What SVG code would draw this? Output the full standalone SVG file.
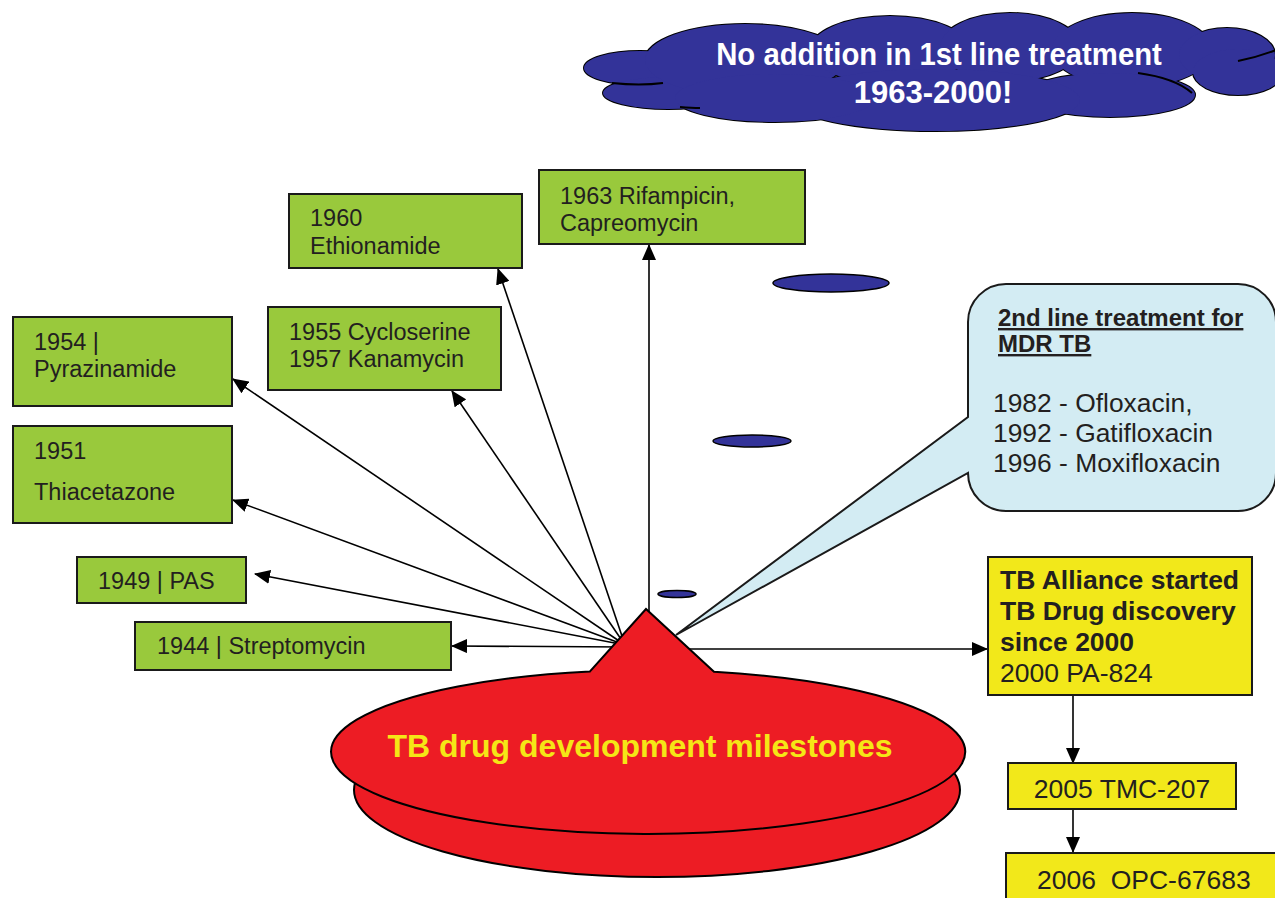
<svg xmlns="http://www.w3.org/2000/svg" width="1275" height="898" viewBox="0 0 1275 898">
<defs>
<marker id="ah" markerWidth="16" markerHeight="14" refX="15" refY="7" orient="auto" markerUnits="userSpaceOnUse"><path d="M0,0 L16,7 L0,14 z" fill="#000"/></marker>
<style>
.g{fill:#99c93c;stroke:#1a1a1a;stroke-width:2}
.y{fill:#f2e81a;stroke:#1a1a1a;stroke-width:2}
.t{font-family:"Liberation Sans",Arial,sans-serif;font-size:23.5px;fill:#231f20}
.tb{font-family:"Liberation Sans",Arial,sans-serif;font-size:26.5px;fill:#231f20}
.b{font-weight:bold}
.c{fill:none;stroke:#000;stroke-width:1.6;marker-end:url(#ah)}
.cl{fill:#333399;stroke:#000;stroke-width:2}
.cf{fill:#333399;stroke:none}
.fold{fill:none;stroke:#000;stroke-width:2}
.be{fill:#333399;stroke:#000;stroke-width:1.5}
.ct{font-family:"Liberation Sans",Arial,sans-serif;font-size:32px;font-weight:bold;fill:#fff}
</style>
</defs>
<rect width="1275" height="898" fill="#fff"/>

<g id="cloud">
<g class="cl">
<ellipse cx="640" cy="68" rx="56" ry="17"/>
<ellipse cx="668" cy="93" rx="65" ry="16"/>
<ellipse cx="745" cy="60" rx="100" ry="36"/>
<ellipse cx="890" cy="50" rx="80" ry="34"/>
<ellipse cx="1010" cy="47" rx="70" ry="34"/>
<ellipse cx="1132" cy="50" rx="80" ry="37"/>
<ellipse cx="1227" cy="55" rx="48" ry="27"/>
<ellipse cx="1238" cy="72" rx="45" ry="23"/>
<ellipse cx="1110" cy="95" rx="85" ry="22"/>
<ellipse cx="935" cy="100" rx="145" ry="31"/>
<ellipse cx="775" cy="98" rx="100" ry="24"/>
</g>
<g class="cf">
<ellipse cx="640" cy="68" rx="56" ry="17"/>
<ellipse cx="668" cy="93" rx="65" ry="16"/>
<ellipse cx="745" cy="60" rx="100" ry="36"/>
<ellipse cx="890" cy="50" rx="80" ry="34"/>
<ellipse cx="1010" cy="47" rx="70" ry="34"/>
<ellipse cx="1132" cy="50" rx="80" ry="37"/>
<ellipse cx="1227" cy="55" rx="48" ry="27"/>
<ellipse cx="1238" cy="72" rx="45" ry="23"/>
<ellipse cx="1110" cy="95" rx="85" ry="22"/>
<ellipse cx="935" cy="100" rx="145" ry="31"/>
<ellipse cx="775" cy="98" rx="100" ry="24"/>
</g>
<path class="fold" d="M612 83 Q640 86 663 83"/>
<path class="fold" d="M680 107 Q692 108 700 108"/>
<path class="fold" d="M1238 61 Q1258 57 1276 50"/>
<path class="fold" d="M1138 73 Q1175 78 1192 93"/>
<text class="ct" transform="translate(939,65) scale(0.915,1)" text-anchor="middle">No addition in 1st line treatment</text>
<text class="ct" transform="translate(933,103) scale(0.97,1)" text-anchor="middle">1963-2000!</text>
</g>

<g id="decor">
<ellipse class="be" cx="831" cy="283" rx="58" ry="9"/>
<ellipse class="be" cx="752" cy="441" rx="39" ry="6"/>
<ellipse class="be" cx="677" cy="594" rx="19" ry="3.5"/>
</g>

<g id="connectors">
<line class="c" x1="625" y1="647" x2="452" y2="646"/>
<line class="c" x1="625" y1="645" x2="255" y2="574"/>
<line class="c" x1="625" y1="645" x2="233" y2="500"/>
<line class="c" x1="625" y1="645" x2="233" y2="379"/>
<line class="c" x1="625" y1="645" x2="452" y2="391"/>
<line class="c" x1="625" y1="645" x2="498" y2="269"/>
<line class="c" x1="649" y1="640" x2="649" y2="245"/>
<line class="c" x1="660" y1="649" x2="987" y2="649"/>
<line class="c" x1="1073" y1="695" x2="1073" y2="763"/>
<line class="c" x1="1073" y1="809" x2="1073" y2="852"/>
</g>

<g id="callout">
<path d="M1006 284 H1238 A38 38 0 0 1 1276 322 V473 A38 38 0 0 1 1238 511 H1006 A38 38 0 0 1 968 473 L676 635 L968 417 V322 A38 38 0 0 1 1006 284 Z" fill="#d3ecf3" stroke="#1a1a1a" stroke-width="2"/>
<text x="998" y="326" font-family="Liberation Sans, Arial, sans-serif" font-size="24" font-weight="bold" fill="#231f20" text-decoration="underline">2nd line treatment for</text>
<text x="998" y="352" font-family="Liberation Sans, Arial, sans-serif" font-size="24" font-weight="bold" fill="#231f20" text-decoration="underline">MDR TB</text>
<text x="993" y="412" font-family="Liberation Sans, Arial, sans-serif" font-size="26.4" fill="#231f20">1982 - Ofloxacin,</text>
<text x="993" y="442" font-family="Liberation Sans, Arial, sans-serif" font-size="26.4" fill="#231f20">1992 - Gatifloxacin</text>
<text x="993" y="472" font-family="Liberation Sans, Arial, sans-serif" font-size="26.4" fill="#231f20">1996 - Moxifloxacin</text>
</g>

<g id="center">
<ellipse cx="657" cy="790" rx="303" ry="87" fill="#ed1c24" stroke="#000" stroke-width="2"/>
<path d="M590 671.4 L646 609 L714 671.8 A317 82 0 1 1 590 671.4 Z" fill="#ed1c24" stroke="#000" stroke-width="2" stroke-linejoin="miter"/>
<text x="640" y="757" text-anchor="middle" font-family="Liberation Sans, Arial, sans-serif" font-size="32" font-weight="bold" fill="#f5e616">TB drug development milestones</text>
</g>

<g id="n1960">
<rect class="g" x="289" y="194" width="233" height="74"/>
<text class="t" x="310" y="226">1960</text>
<text class="t" x="310" y="254">Ethionamide</text>
</g>
<g id="n1963">
<rect class="g" x="539" y="170" width="266" height="74"/>
<text class="t" x="560" y="204">1963 Rifampicin,</text>
<text class="t" x="560" y="231">Capreomycin</text>
</g>
<g id="n1955">
<rect class="g" x="268" y="307" width="233" height="83"/>
<text class="t" x="289" y="340">1955 Cycloserine</text>
<text class="t" x="289" y="367">1957 Kanamycin</text>
</g>
<g id="n1954">
<rect class="g" x="13" y="317" width="219" height="89"/>
<text class="t" x="34" y="350">1954 |</text>
<text class="t" x="34" y="377">Pyrazinamide</text>
</g>
<g id="n1951">
<rect class="g" x="13" y="426" width="219" height="97"/>
<text class="t" x="34" y="459">1951</text>
<text class="t" x="34" y="500">Thiacetazone</text>
</g>
<g id="n1949">
<rect class="g" x="77" y="557" width="169" height="46"/>
<text class="t" x="98" y="589">1949 | PAS</text>
</g>
<g id="n1944">
<rect class="g" x="135" y="622" width="316" height="48"/>
<text class="t" x="157" y="654">1944 | Streptomycin</text>
</g>

<g id="alliance">
<rect class="y" x="988" y="557" width="264" height="138"/>
<text class="tb b" x="1000" y="589">TB Alliance started</text>
<text class="tb b" x="1000" y="620">TB Drug discovery</text>
<text class="tb b" x="1000" y="651">since 2000</text>
<text class="tb" x="1000" y="682">2000 PA-824</text>
</g>
<g id="tmc">
<rect class="y" x="1008" y="763" width="228" height="46"/>
<text class="tb" x="1122" y="798" text-anchor="middle">2005 TMC-207</text>
</g>
<g id="opc">
<rect class="y" x="1006" y="853" width="280" height="60"/>
<text class="tb" x="1037" y="889" xml:space="preserve">2006  OPC-67683</text>
</g>
</svg>
